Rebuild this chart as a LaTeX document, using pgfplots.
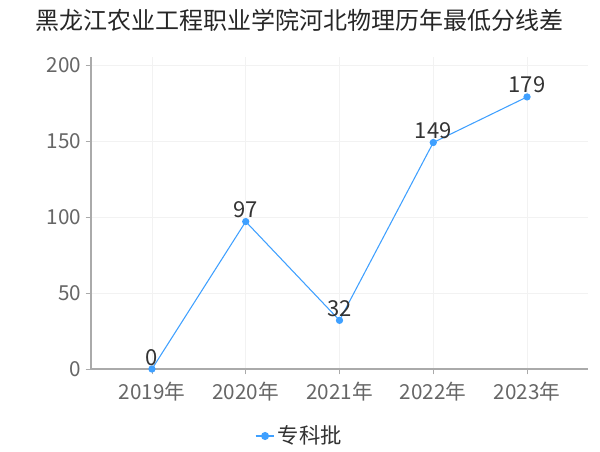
\documentclass[border=0pt]{standalone}
\usepackage{fontspec}
\usepackage{pgfplots}
\pgfplotsset{compat=1.18}
\setmainfont{Noto Sans CJK SC}
\definecolor{lc}{HTML}{3FA0FF}
\definecolor{tk}{HTML}{666666}
\definecolor{ax}{HTML}{AAAAAA}
\definecolor{gr}{HTML}{F2F2F2}
\begin{document}
\begin{tikzpicture}
\path (0pt,0pt) rectangle (450pt,337.5pt);
\node[font=\fontsize{18}{20}\selectfont, text=black!85] at (225pt,322.5pt) {黑龙江农业工程职业学院河北物理历年最低分线差};
\begin{axis}[
  at={(68.25pt,60.75pt)}, anchor=south west,
  scale only axis, width=372.75pt, height=233.7pt,
  xmin=-0.65, xmax=4.65, ymin=0, ymax=205,
  axis x line*=bottom, axis y line*=left,
  axis line style={ax, line width=0.8pt},
  xtick={0,1,2,3,4},
  xticklabels={2019年,2020年,2021年,2022年,2023年},
  ytick={0,50,100,150,200},
  grid=major, major grid style={gr, line width=0.6pt},
  tick style={ax, line width=0.6pt}, major tick length=4pt,
  tick align=outside,
  ticklabel style={font=\fontsize{15.5}{17}\selectfont, text=tk},
  /pgf/number format/assume math mode=true,
  xticklabel style={yshift=-2pt},
  legend style={at={(0.42,-0.165)}, anchor=north, draw=none, font=\fontsize{16}{18}\selectfont, text=black!80},
  legend cell align=left,
  legend image code/.code={\draw[lc, line width=0.9pt] (0pt,0pt) -- (14pt,0pt); \fill[lc] (7pt,0pt) circle (2.6pt);},
  clip=false,
]
\addplot[lc, line width=0.8pt, mark=*, mark size=2.3pt, mark options={fill=lc, draw=lc},
  nodes near coords, every node near coord/.append style={font=\fontsize{16.5}{18}\selectfont, text=black!80, yshift=-1pt}]
  coordinates {(0,0) (1,97) (2,32) (3,149) (4,179)};
\addlegendentry{专科批}
\end{axis}
\end{tikzpicture}
\end{document}
